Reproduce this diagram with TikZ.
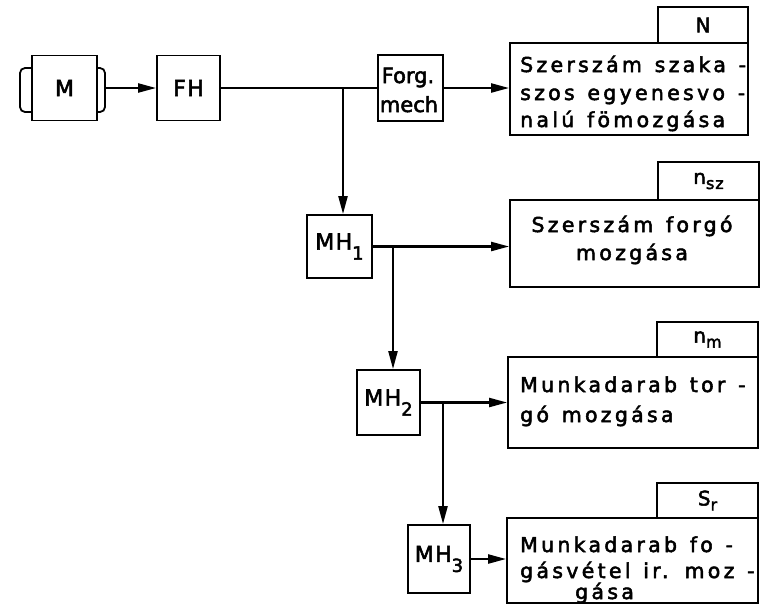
\documentclass[tikz,border=0pt]{standalone}
\usepackage{fontspec}
\newfontfamily\lett{DejaVu Sans}[LetterSpace=16,WordSpace=1.3,FakeBold=2.5]
\newfontfamily\lbfont{DejaVu Sans}[LetterSpace=6,FakeBold=2.5]
\newfontfamily\smfont{DejaVu Sans}[LetterSpace=0,FakeBold=2.5]
\usetikzlibrary{arrows.meta}
\newcommand\bigsub[1]{\raisebox{-10pt}{\fontsize{18}{18}\selectfont #1}}
\newcommand\tabsub[1]{\raisebox{-5pt}{\fontsize{16}{16}\selectfont #1}}
\begin{document}
\begin{tikzpicture}[x=1pt,y=-1pt,
  box/.style={draw, line width=1.8pt, inner sep=0pt},
  conn/.style={line width=2.2pt},
  arr/.style={conn, -{Triangle[length=18pt,width=9pt]}},
  lbl/.style={font=\lbfont\fontsize{22}{24}\selectfont},
  ln/.style={font=\lett\fontsize{20.5}{24}\selectfont, inner sep=0pt, anchor=base west},
  lnc/.style={font=\lett\fontsize{20.5}{24}\selectfont, inner sep=0pt, anchor=base},
  tab/.style={box, font=\lbfont\fontsize{20}{24}\selectfont}]
\useasboundingbox (0,0) rectangle (767,606);
% motor
\node[box, lbl, minimum width=65pt, minimum height=65pt] (M) at (64.5,88) {M};
\draw[line width=1.8pt, rounded corners=5pt] (32,68) -- (20,68) -- (20,112) -- (32,112);
\draw[line width=1.8pt, rounded corners=5pt] (97,68) -- (105,68) -- (105,112) -- (97,112);
\coordinate (Mr) at (105,88);
\node[box, lbl, minimum width=63pt, minimum height=65pt] (FH) at (188.5,88) {FH};
\node[box, minimum width=65pt, minimum height=66pt] (Forg) at (410.5,88) {};
\node[inner sep=0pt, anchor=base, font=\smfont\fontsize{21}{22}\selectfont] (Fa) at (408,83) {Forg.};
\node[inner sep=0pt, anchor=base, font=\smfont\fontsize{21}{22}\selectfont] (Fb) at (409,112) {mech};
% big box 1
\node[box, minimum width=238pt, minimum height=92pt] (B1) at (629,89) {};
\node[tab, minimum width=90pt, minimum height=36pt] (T1) at (703,25) {N};
\node[ln] (X1a) at (520,72) {Szerszám szaka -};
\node[ln] (X1b) at (520,100) {szos egyenesvo -};
\node[ln] (X1c) at (520,127) {nalú fömozgása};
% MH1 and box 2
\node[box, lbl, minimum width=65pt, minimum height=63pt] (MH1) at (339.5,246.5) {MH\bigsub{1}};
\node[box, minimum width=249pt, minimum height=87pt] (B2) at (634.5,243.5) {};
\node[tab, minimum width=101pt, minimum height=38pt] (T2) at (708.5,181) {n\tabsub{sz}};
\node[lnc] (X2a) at (632,232) {Szerszám forgó};
\node[lnc] (X2b) at (632,260) {mozgása};
% MH2 and box 3
\node[box, lbl, minimum width=63pt, minimum height=65pt] (MH2) at (388.5,402.5) {MH\bigsub{2}};
\node[box, minimum width=250pt, minimum height=91pt] (B3) at (633,402.5) {};
\node[tab, minimum width=101pt, minimum height=35pt] (T3) at (707.5,339.5) {n\tabsub{m}};
\node[ln] (X3a) at (520,392) {Munkadarab tor -};
\node[ln] (X3b) at (520,422) {gó mozgása};
% MH3 and box 4
\node[box, lbl, minimum width=62pt, minimum height=68pt] (MH3) at (439,559) {MH\bigsub{3}};
\node[box, minimum width=251pt, minimum height=85pt] (B4) at (632.5,560.5) {};
\node[tab, minimum width=101pt, minimum height=35pt] (T4) at (707.5,500.5) {S\tabsub{r}};
\node[ln] (X4a) at (520,552) {Munkadarab fo -};
\node[ln] (X4b) at (520,578) {gásvétel ir. moz -};
\node[ln] (X4c) at (575,599) {gása};
% connectors
\coordinate (j1) at (343,88);
\coordinate (j2) at (393,246.5);
\coordinate (j3) at (443,402.5);
\draw[arr] (Mr) -- (FH.west);
\draw[conn] (FH.east) -- (Forg.west);
\draw[arr] (j1) -- (j1 |- MH1.north);
\draw[arr] (Forg.east) -- (B1.west |- Forg.east);
\draw[arr] (MH1.east) -- (B2.west |- MH1.east);
\draw[arr] (j2) -- (j2 |- MH2.north);
\draw[arr] (MH2.east) -- (B3.west |- MH2.east);
\draw[arr] (j3) -- (j3 |- MH3.north);
\draw[arr] (MH3.east) -- (B4.west |- MH3.east);
\end{tikzpicture}
\end{document}
